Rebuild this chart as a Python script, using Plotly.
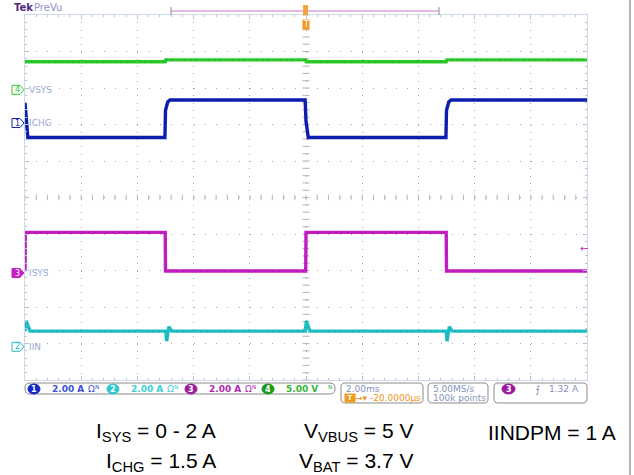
import numpy as np
import plotly.graph_objects as go

# ---------------- data (read from the scope capture) ----------------
# time in ms (2 ms/div, trigger at 0)
t_vsys = [-10.0, -5.03, -5.01, -4.99, -0.01, 0.01, 4.99, 5.01, 10.0]
vsys   = [3.85, 3.85, 3.70, 4.10, 4.10, 3.85, 3.85, 4.10, 4.10]          # V

t_ichg = [-10.0, -9.97, -9.9, -5.02, -5.0, -4.92, -4.84, -0.03, 0.0, 0.08, 4.98, 5.0, 5.08, 5.16, 10.0]
ichg   = [1.10, 0.30, -0.79, -0.79, 0.70, 1.15, 1.26, 1.26, 0.10, -0.79, -0.79, 0.70, 1.15, 1.26, 1.26]  # A

t_isys = [-10.0, -9.99, -5.01, -5.0, -0.01, 0.0, 4.99, 5.0, 10.0]
isys   = [0.10, 2.23, 2.23, 0.11, 0.11, 2.23, 2.23, 0.11, 0.11]          # A

t_iin = [-10.0, -9.96, -9.82, -4.99, -4.96, -4.88, -4.78, -0.02, 0.01, 0.14, 4.99, 5.02, 5.1, 5.2, 10.0]
iin   = [0.86, 1.42, 0.86, 0.86, 0.31, 1.10, 0.86, 0.86, 1.42, 0.86, 0.86, 0.31, 1.10, 0.86, 0.86]  # A

channel_names  = ["ICHG", "IIN", "ISYS", "VSYS"]
channel_nums   = ["1", "2", "3", "4"]
channel_scale  = [2.0, 2.0, 2.0, 5.0]          # units / div
channel_units  = ["A", "A", "A", "V"]
channel_ground = [2.04, -4.09, -2.07, 2.95]    # ground marker position (div from centre)
trig_level = 1.32                               # A on channel 3
time_per_div = "2.00ms"
trig_delay = "-20.0000µs"
sample_rate = "5.00MS/s"
record_len = "100k points"

cond_row1 = ["I<sub>SYS</sub> = 0 - 2 A", "V<sub>VBUS</sub> = 5 V", "IINDPM = 1 A"]
cond_row2 = ["I<sub>CHG</sub> = 1.5 A", "V<sub>BAT</sub> = 3.7 V"]

# ---------------- styling / layout ----------------
W, H = 634, 475
L, R, T, B = 25, 587, 15, 380
def px(x): return (x - L) / (R - L)
def py(y): return (B - y) / (B - T)

colors = ["#0d1fb0", "#1fbfc4", "#c21ec4", "#2ccb2a"]
dark = ["#06105a", "#0f6f72", "#6e1070", "#176b16"]
status_col = "#8393bd"
UI = "DejaVu Sans"

fig = go.Figure()

series = [(t_ichg, ichg), (t_iin, iin), (t_isys, isys), (t_vsys, vsys)]
draw_order = [3, 0, 2, 1]
for i in draw_order:
    t, v = series[i]
    fig.add_trace(go.Scatter(x=t, y=v, mode="lines", yaxis="y%d" % (i + 2),
                             line=dict(color=colors[i], width=3.4),
                             hoverinfo="skip", showlegend=False))
    # acquisition speckle texture
    fig.add_trace(go.Scatter(x=t, y=v, mode="lines", yaxis="y%d" % (i + 2),
                             line=dict(color=dark[i], width=1, dash="1px,5px"), opacity=0.55,
                             hoverinfo="skip", showlegend=False))

# centre crosshair ticks
fig.add_trace(go.Scatter(x=np.zeros(51), y=np.linspace(-5, 5, 51), mode="markers",
                         marker=dict(symbol="line-ew", size=5, line=dict(width=1, color="#b4b4b4")),
                         hoverinfo="skip", showlegend=False))
fig.add_trace(go.Scatter(x=np.linspace(-10, 10, 51), y=np.zeros(51), mode="markers",
                         marker=dict(symbol="line-ns", size=4, line=dict(width=1, color="#b8b8b8")),
                         hoverinfo="skip", showlegend=False))

axis_common = dict(showticklabels=False, zeroline=False, showline=True, linecolor="#cdd9ea",
                   linewidth=1, mirror="ticks", ticks="inside", tickcolor="#b8c2d4", ticklen=4,
                   gridcolor="#a5a5a5", gridwidth=1, fixedrange=True)
layout = dict(
    width=W, height=H,
    margin=dict(l=L, r=W - R, t=T, b=H - B),
    paper_bgcolor="white", plot_bgcolor="white", showlegend=False,
    xaxis=dict(range=[-10, 10], dtick=2, tick0=0, griddash="1px,6.3px",
               minor=dict(dtick=0.4, ticks="inside", ticklen=2, tickcolor="#b8c2d4", showgrid=False),
               **axis_common),
    yaxis=dict(range=[-5, 5], dtick=1, tick0=0, griddash="1px,10.24px",
               minor=dict(dtick=0.2, ticks="inside", ticklen=2, tickcolor="#b8c2d4", showgrid=False),
               **axis_common),
)
for i in range(4):
    g, s = channel_ground[i], channel_scale[i]
    layout["yaxis%d" % (i + 2)] = dict(overlaying="y", visible=False, fixedrange=True,
                                       range=[(-5 - g) * s, (5 - g) * s])
fig.update_layout(**layout)

shapes, annos = [], []
def txt(x, y, s, color, size, anchor="left", family=UI, **kw):
    annos.append(dict(x=px(x), y=py(y), xref="paper", yref="paper", text=s, showarrow=False,
                      xanchor=anchor, yanchor="middle", font=dict(color=color, size=size, family=family), **kw))

def rrect(x0, y0, x1, y1, r, color="#8a8a8a"):
    p = lambda x, y: "%.5f,%.5f" % (px(x), py(y))
    path = ("M" + p(x0 + r, y0) + " L" + p(x1 - r, y0) + " Q" + p(x1, y0) + " " + p(x1, y0 + r) +
            " L" + p(x1, y1 - r) + " Q" + p(x1, y1) + " " + p(x1 - r, y1) +
            " L" + p(x0 + r, y1) + " Q" + p(x0, y1) + " " + p(x0, y1 - r) +
            " L" + p(x0, y0 + r) + " Q" + p(x0, y0) + " " + p(x0 + r, y0) + " Z")
    shapes.append(dict(type="path", path=path, xref="paper", yref="paper",
                       line=dict(color=color, width=1)))

def ellipse(x0, y0, x1, y1, color):
    shapes.append(dict(type="circle", xref="paper", yref="paper", x0=px(x0), x1=px(x1),
                       y0=py(y1), y1=py(y0), fillcolor=color, line=dict(color=color, width=1)))

# --- top header ---
txt(12, 8, "<b>Tek</b>", "#4d2a7e", 10)
txt(32, 8, "PreVu", "#9a8fd2", 10)
shapes.append(dict(type="line", xref="paper", yref="paper", x0=px(171), x1=px(439), y0=py(11), y1=py(11),
                   line=dict(color="#c878c8", width=1)))
for xc in (171, 439):
    shapes.append(dict(type="line", xref="paper", yref="paper", x0=px(xc), x1=px(xc), y0=py(7), y1=py(15),
                       line=dict(color="#888888", width=1)))
shapes.append(dict(type="rect", xref="paper", yref="paper", x0=px(303), x1=px(308), y0=py(15), y1=py(5),
                   fillcolor="#f2a43a", line=dict(color="#f2a43a", width=0)))
txt(305.5, 24, "T", "white", 8, anchor="center", bgcolor="#f39a1e", borderpad=0)

# --- channel ground markers & names ---
for i in range(4):
    yg = T + (5 - channel_ground[i]) * (B - T) / 10
    c = colors[i]
    filled = (i == 2)
    pts = [(12, yg - 4.5), (20, yg - 4.5), (24, yg), (20, yg + 4.5), (12, yg + 4.5)]
    path = "M" + " L".join("%.5f,%.5f" % (px(a), py(b)) for a, b in pts) + " Z"
    shapes.append(dict(type="path", path=path, xref="paper", yref="paper",
                       fillcolor=c if filled else "white", line=dict(color=c, width=1)))
    txt(17, yg, channel_nums[i], "white" if filled else c, 8, anchor="center")
    txt(27, yg, channel_names[i], "#9aaad6", 9)

# trigger level arrow (channel 3)
y_trig = T + (5 - (channel_ground[2] + trig_level / channel_scale[2])) * (B - T) / 10
txt(584, y_trig, "←", colors[2], 10, anchor="center")

# --- status bar ---
rrect(25, 383, 335, 394, 5)
rrect(341, 383, 423, 403, 4)
rrect(428, 383, 488, 403, 4)
rrect(494, 383, 587, 403, 4)
ch_status_x = [28, 107, 185, 262]
ch_status_col = ["#1428c8", "#2ec8d0", "#9a1aa0", "#1a9a1a"]
ch_text_col = ["#3a52d6", "#3ccfd6", "#b028b4", "#33b833"]
for i in range(4):
    x0 = ch_status_x[i]
    ellipse(x0, 384, x0 + 12, 394, ch_status_col[i])
    txt(x0 + 6, 389, "<b>%s</b>" % channel_nums[i], "white", 8, anchor="center")
    txt(x0 + 22, 389, "<b>%.2f %s</b>" % (channel_scale[i], channel_units[i]), ch_text_col[i], 9)
    txt(x0 + 58 if i < 3 else x0 + 64, 389, ("Ω" if i < 3 else "") + "ᴺ", ch_text_col[i], 9)

txt(344, 389, time_per_div, status_col, 9)
txt(344, 398, "<b> T </b>", "white", 7, bgcolor="#f39a1e", borderpad=0)
txt(353, 398, "→▾ " + trig_delay, "#f0921a", 9)
txt(431, 389, sample_rate, status_col, 9)
txt(431, 398, record_len, status_col, 9)
ellipse(502, 384, 515, 394, "#9a1aa0")
txt(508.5, 389, "<b>3</b>", "white", 8, anchor="center")
txt(537, 389, "⨍", status_col, 10, anchor="center")
txt(581, 389, "%.2f A" % trig_level, status_col, 9, anchor="right")

# right border of capture
shapes.append(dict(type="line", xref="paper", yref="paper", x0=px(630), x1=px(630), y0=py(0), y1=py(475),
                   line=dict(color="#6e6e6e", width=1)))

# --- test-condition text ---
COND = "Liberation Sans"
row1_x = [218, 415, 618]
row2_x = [218, 415]
for s, x in zip(cond_row1, row1_x):
    txt(x, 432, s, "black", 21, anchor="right", family=COND)
for s, x in zip(cond_row2, row2_x):
    txt(x, 462, s, "black", 21, anchor="right", family=COND)

fig.update_layout(shapes=shapes, annotations=annos)
fig.write_html("out.html", config={"displayModeBar": False},
               post_script="document.body.style.margin='0';document.body.style.overflow='hidden';")
